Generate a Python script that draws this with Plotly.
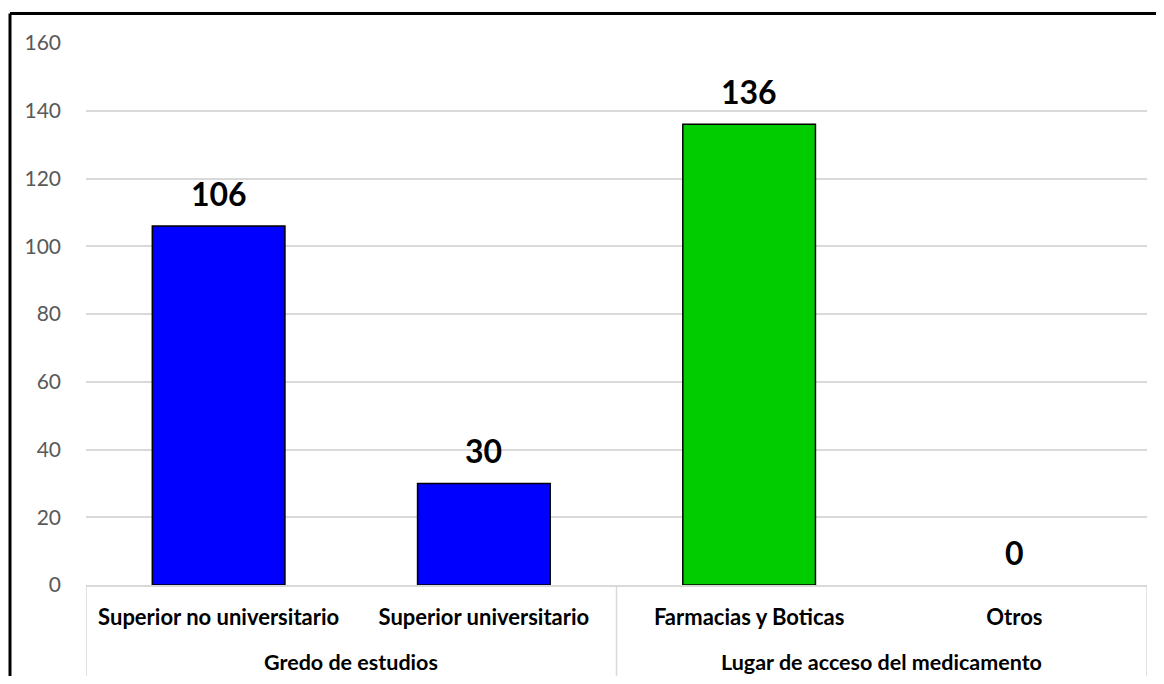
import plotly.graph_objects as go

groups = ["Gredo de estudios", "Lugar de acceso del medicamento"]
group_sizes = [2, 2]
categories = ["Superior no universitario", "Superior universitario",
              "Farmacias y Boticas", "Otros"]
values = [106, 30, 136, 0]
colors = ["#0000FF", "#0000FF", "#00CC00", "#00CC00"]
y_ticks = [0, 20, 40, 60, 80, 100, 120, 140, 160]

# page body adds an 8px margin around the figure
OFF = 8
W, H = 1164 - OFF, 684 - 2 * OFF
L, T = 86 - OFF, 43 - OFF
R = W - (1147 - OFF)
B = H - (585 - OFF)
pw, ph = W - L - R, H - T - B
FONT = "Lato"

fig = go.Figure()
fig.add_trace(go.Bar(
    x=categories,
    y=values,
    marker=dict(color=colors,
                line=dict(color="#000000", width=[0 if v == 0 else 1.5 for v in values])),
    width=0.5,
    hoverinfo="x+y",
))

# value labels above bars
for c, v in zip(categories, values):
    fig.add_annotation(x=c, y=v, xref="x", yref="y", text=str(v), showarrow=False,
                       yanchor="bottom", yshift=11,
                       font=dict(family=FONT, size=32, color="#000000", weight="bold"))

# group labels and dividers
start = 0
div_y1 = -(B + 10) / ph
fig.add_shape(type="line", xref="x", yref="paper", x0=-0.5, x1=-0.5, y0=0, y1=div_y1,
              line=dict(color="#D9D9D9", width=1.5))
for g, n in zip(groups, group_sizes):
    mid = start + (n - 1) / 2
    fig.add_annotation(x=mid, y=-77 / ph, xref="x", yref="paper",
                       text=g, showarrow=False, yanchor="middle",
                       font=dict(family=FONT, size=21.5, color="#000000", weight="bold"))
    end = start + n - 0.5
    fig.add_shape(type="line", xref="x", yref="paper", x0=end, x1=end, y0=0, y1=div_y1,
                  line=dict(color="#D9D9D9", width=1.5))
    start += n

# outer frame (top and left edges visible)
fx0 = (10 - OFF - L) / pw
fy1 = (ph + T - (13.5 - OFF)) / ph
fig.add_shape(type="line", xref="paper", yref="paper", x0=fx0, x1=2, y0=fy1, y1=fy1,
              line=dict(color="#000000", width=3))
fig.add_shape(type="line", xref="paper", yref="paper", x0=fx0, x1=fx0, y0=-1, y1=fy1,
              line=dict(color="#000000", width=3))

fig.update_layout(
    width=W, height=H,
    margin=dict(l=L, r=R, t=T, b=B, pad=0),
    paper_bgcolor="#FFFFFF", plot_bgcolor="#FFFFFF",
    showlegend=False,
    font=dict(family=FONT),
    xaxis=dict(
        type="category",
        automargin=False,
        range=[-0.5, len(categories) - 0.5],
        showline=True, linecolor="#D9D9D9", linewidth=1.5,
        tickfont=dict(family=FONT, size=22, color="#000000", weight="bold"),
        ticks="",
        ticklabelstandoff=12,
        showgrid=False,
    ),
    yaxis=dict(
        automargin=False,
        range=[0, 160],
        tickvals=y_ticks,
        showgrid=True, gridcolor="#D9D9D9", gridwidth=1.5,
        zeroline=False,
        showline=False,
        ticks="",
        ticklabelstandoff=24,
        tickfont=dict(family=FONT, size=21, color="#595959"),
    ),
)

fig.write_html("out.html")
